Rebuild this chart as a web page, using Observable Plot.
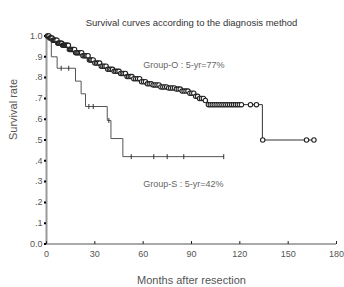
<!DOCTYPE html>
<html>
<head>
<meta charset="utf-8">
<script src="https://cdn.jsdelivr.net/npm/d3@7"></script>
<script src="https://cdn.jsdelivr.net/npm/@observablehq/plot@0.6"></script>
<style>
  html, body { margin: 0; padding: 0; background: #fff; }
  #chart svg { display: block; }
</style>
</head>
<body>
<div id="chart"></div>
<script>
// ---- Data ----
const titleText = "Survival curves according to the diagnosis method";
const xLabelText = "Months after resection";
const yLabelText = "Survival rate";

// Group-O Kaplan-Meier step knots (months, survival)
const oTimes = [0, 2, 4, 7, 10, 14, 18, 22, 26, 30, 34, 38, 42, 46, 50, 54, 58, 62, 66, 70, 75, 80, 84, 88, 92, 95, 98, 100, 134, 167];
const oSurv  = [1.0, 0.99, 0.98, 0.965, 0.955, 0.935, 0.92, 0.905, 0.885, 0.87, 0.855, 0.84, 0.83, 0.82, 0.805, 0.795, 0.78, 0.77, 0.765, 0.755, 0.75, 0.745, 0.735, 0.725, 0.71, 0.70, 0.69, 0.67, 0.50, 0.50];
// Group-O censored times (circles)
const oCensor = [0.5, 1, 1.5, 2, 2.5, 3, 3.5, 4, 4.5, 5, 5.5, 6, 6.5, 7, 7.5, 8, 8.5, 9, 9.5, 10, 10.6, 11.2, 11.8, 12.4, 13, 13.6, 14.2, 14.8, 15.4, 16, 16.7, 17.4, 18.1, 18.8, 19.5, 20.2, 21, 21.8, 22.6, 23.4, 24.2, 25, 25.8, 26.6, 27.4, 28.2, 29, 30, 31, 32, 33, 34, 35, 36, 37, 38, 39, 40, 41, 42, 43, 44, 45, 46, 47, 48, 49, 50, 51, 52, 53, 54.2, 55.4, 56.6, 57.8, 59, 60.2, 61.4, 62.6, 63.8, 65, 66.2, 67.4, 68.6, 69.8, 71, 72.2, 73.4, 74.6, 75.8, 77, 78.2, 79.4, 80.6, 81.8, 83, 84.2, 85.4, 86.6, 87.8, 89, 90.2, 91.4, 92.6, 93.8, 95, 96.2, 97.4, 98.6, 100.5, 101.7, 102.9, 104.1, 105.3, 106.5, 107.7, 108.9, 110.1, 111.3, 112.5, 113.7, 114.9, 116.1, 117.3, 118.5, 119.7, 121, 126.6, 130.3, 134.2, 161.4, 166];

// Group-S Kaplan-Meier step knots
const sTimes = [0, 3, 6.6, 18, 21.5, 24.2, 37.7, 40, 47.4, 110];
const sSurv  = [1.0, 0.90, 0.845, 0.783, 0.722, 0.661, 0.594, 0.507, 0.42, 0.42];
// Group-S censored times (vertical ticks)
const sCensor = [9.1, 13.8, 26.3, 29, 38.7, 52.6, 66.6, 74.9, 85.2, 110];

// Annotations
const annoText = ["Group-O : 5-yr=77%", "Group-S : 5-yr=42%"];
const annoX = [60, 60];
const annoY = [0.86, 0.29];

// Axis ticks
const xTicks = [0, 30, 60, 90, 120, 150, 180];
const yTicks = [0, 0.1, 0.2, 0.3, 0.4, 0.5, 0.6, 0.7, 0.8, 0.9, 1.0];
const yTickLabels = ["0.0", ".1", ".2", ".3", ".4", ".5", ".6", ".7", ".8", ".9", "1.0"];

// ---- Build tables ----
const oCurve = oTimes.map((t, i) => ({t, s: oSurv[i]}));
const sCurve = sTimes.map((t, i) => ({t, s: sSurv[i]}));
function survAt(times, surv, t) {
  let v = surv[0];
  for (let i = 0; i < times.length; i++) if (times[i] <= t) v = surv[i];
  return v;
}
const oCens = oCensor.map(t => ({t, s: survAt(oTimes, oSurv, t)}));
const sCens = sCensor.map(t => ({t, s: survAt(sTimes, sSurv, t)}));
const annos = annoText.map((text, i) => ({text, x: annoX[i], y: annoY[i]}));

const vline = {
  draw(context, size) {
    const r = Math.sqrt(size / Math.PI);
    context.moveTo(0, -r);
    context.lineTo(0, r);
  }
};

const FONT = "'Liberation Sans', Arial, sans-serif";

const chart = Plot.plot({
  width: 344,
  height: 287,
  marginLeft: 46,
  marginRight: 8,
  marginTop: 35.5,
  marginBottom: 43.5,
  style: {fontFamily: FONT, fontSize: "9px", color: "#444", background: "#fff"},
  x: {domain: [0, 180]},
  y: {domain: [0, 1]},
  marks: [
    // axis lines
    Plot.ruleX([0], {y1: 0, y2: 1, stroke: "#999", strokeWidth: 2}),
    Plot.ruleY([0], {stroke: "#555", strokeWidth: 1}),
    Plot.axisY({ticks: yTicks, tickFormat: (d, i) => yTickLabels[i], tickSize: 2, tickPadding: 2, stroke: "#000", strokeWidth: 2, label: null, fontSize: 9, fill: "#555"}),
    Plot.axisX({ticks: xTicks, tickSize: 0, tickPadding: 7, label: null, fontSize: 9, fill: "#555"}),
    Plot.dot(xTicks, {x: d => d, y: () => 0, symbol: vline, r: 1.5, dy: -1.5, stroke: "#222", strokeWidth: 1}),
    // Group-S
    Plot.line(sCurve, {x: "t", y: "s", curve: "step-after", stroke: "#555", strokeWidth: 1}),
    Plot.dot(sCens, {x: "t", y: "s", symbol: vline, r: 2.5, stroke: "#333", strokeWidth: 1}),
    // Group-O
    Plot.line(oCurve, {x: "t", y: "s", curve: "step-after", stroke: "#333", strokeWidth: 1}),
    Plot.dot(oCens, {x: "t", y: "s", r: 2.2, stroke: "#222", strokeWidth: 1.1, fill: "#fff"}),
    // annotations
    Plot.text(annos, {x: "x", y: "y", text: "text", textAnchor: "start", fontSize: 9, fill: "#666"}),
    // title and axis labels
    Plot.text([titleText], {text: d => d, frameAnchor: "top", dy: -17, fontSize: 9.5, fill: "#333"}),
    Plot.text([yLabelText], {text: d => d, frameAnchor: "left", dx: -33, rotate: -90, fontSize: 11, fill: "#555"}),
    Plot.text([xLabelText], {text: d => d, frameAnchor: "bottom", dy: 40, fontSize: 11, fill: "#555"})
  ]
});
document.getElementById("chart").appendChild(chart);
</script>
</body>
</html>
